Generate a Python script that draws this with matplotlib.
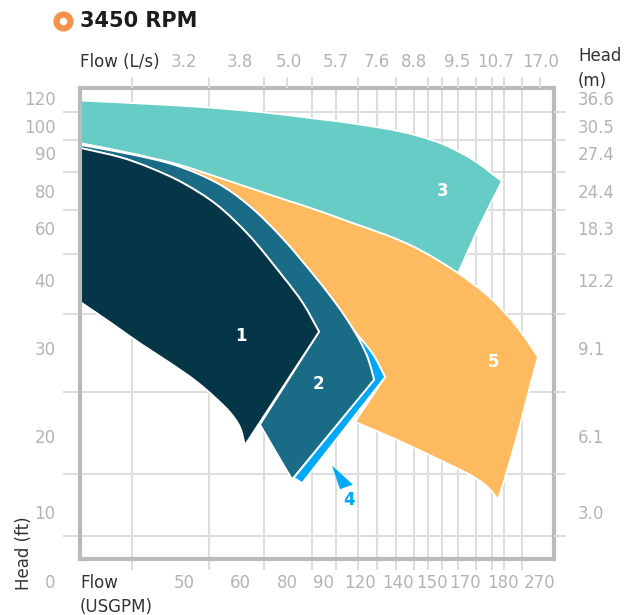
"""
Pump performance regions at 3450 RPM: head vs. flow on the catalogue's uneven grid.
"""

import numpy as np
import matplotlib
matplotlib.use('Agg')
import matplotlib.pyplot as plt
from matplotlib.path import Path
from matplotlib.patches import Polygon, PathPatch
from matplotlib.lines import Line2D

# catalogue axis: tick value -> distance (px) from the left / bottom edge of the plot box
flow_stops = [0, 50, 60, 80, 90, 120, 140, 150, 170, 180, 270, 300]
flow_stop_pos = [0, 104, 160, 207, 243, 280, 318, 352, 385, 423, 460, 474]
head_stops = [0, 10, 20, 30, 40, 60, 80, 90, 100, 120, 127]
head_stop_pos = [0, 47, 123, 211, 279, 331, 368, 406, 433, 461, 471]

# tick labels
flow_ticks = [50, 60, 80, 90, 120, 140, 150, 170, 180, 270]
head_ticks = [10, 20, 30, 40, 60, 80, 90, 100, 120]
head_m_labels = ['3.0', '6.1', '9.1', '12.2', '18.3', '24.4', '27.4', '30.5', '36.6']
flow_ls_labels = ['3.2', '3.8', '5.0', '5.7', '7.6', '8.8', '9.5', '10.7', '17.0']
flow_ls_at = [50, 60, 80.5, 100.5, 129, 144.7, 165, 178, 272]
flow_grid = [25, 50, 54.5, 60, 70, 80, 87, 100.5, 118.4, 129, 139, 144.7, 148.8,
             156.1, 165.8, 172.9, 177.1, 182.4, 226.2, 270]
head_grid = [5, 10, 15, 20, 25, 30, 35, 40, 50, 60, 70, 80, 85, 90, 95, 100, 110, 120]

# region 3: upper edge, right end, and lower edge (shared with region 5), flow in USGPM, head in ft
r3_top_gpm = [0, 28.8, 52.9, 68.5, 88.6, 111.9, 140.6, 154.8, 172.1, 179.7]
r3_top_ft = [118.2, 116.1, 113.6, 110.0, 105.0, 102.1, 98.0, 93.7, 88.2, 82.6]
r3_end_gpm = [173.9]
r3_end_ft = [61.6]
r3_low_gpm = [0, 24.0, 47.1, 55.9, 64.3, 78.3, 88.3, 111.9, 133.2, 143.5, 150.6, 165.8]
r3_low_ft = [93.7, 90.0, 87.0, 83.7, 80.8, 75.7, 69.7, 63.2, 57.5, 53.5, 48.8, 42.7]

# region 5
r5_top_gpm = [176.6, 214.1, 265.1]
r5_top_ft = [37.4, 33.1, 29.0]
r5_right_gpm = [242.0, 220.1, 194.6, 178.7]
r5_right_ft = [25.0, 21.0, 16.3, 11.6]
r5_low_gpm = [177.4, 175.0, 171.3, 160.9, 147.4, 135.8, 115.9]
r5_low_ft = [12.5, 13.7, 14.9, 16.2, 17.9, 19.9, 21.6]

# region 4 (thin band outside region 2)
r4_outer_gpm = [115.9, 126.8, 133.2]
r4_outer_ft = [32.4, 29.3, 26.7]
r4_end_gpm = [84.2, 81.9]
r4_end_ft = [13.8, 14.5]

# region 2
r2_outer_gpm = [0, 24.0, 45.7, 55.9, 64.3, 78.3, 88.3, 101.4, 111.9, 120.0, 124.2, 127.4]
r2_outer_ft = [93.0, 89.7, 86.8, 82.1, 71.6, 55.8, 40.4, 36.3, 33.5, 31.0, 28.8, 26.4]
r2_low_gpm = [81.4, 75.3, 68.5]
r2_low_ft = [14.3, 17.9, 21.3]

# region 1
r1_outer_gpm = [0, 19.2, 33.7, 49.5, 55.9, 64.3, 78.3, 84.4, 88.9]
r1_outer_ft = [91.9, 88.9, 86.1, 82.1, 72.4, 56.7, 41.3, 36.6, 32.4]
r1_low_gpm = [62.1, 60.0, 58.2, 55.5, 52.0, 43.3, 28.8, 14.4, 0]
r1_low_ft = [18.8, 21.0, 22.7, 24.4, 26.3, 28.3, 30.7, 33.8, 36.8]

# pointer for the "4" callout
pointer_gpm = [97.3, 103.8, 114.3]
pointer_ft = [16.1, 13.0, 13.6]

region_names = ['1', '2', '3', '4', '5']
region_label_gpm = [60.4, 88.6, 156.7, 111.1, 177.4]
region_label_ft = [31.8, 25.9, 80.0, 11.6, 28.4]
region_colors = {'1': '#053648', '2': '#1A6B86', '3': '#66CCC5', '4': '#00A8F5', '5': '#FEBA5F'}

GRAY = '#B4B4B4'
DARK = '#333333'
GRID = '#DDDDDD'


def _interp(src, dst):
    return lambda v: np.interp(v, src, dst)


flow_fwd, flow_inv = _interp(flow_stops, flow_stop_pos), _interp(flow_stop_pos, flow_stops)
head_fwd, head_inv = _interp(head_stops, head_stop_pos), _interp(head_stop_pos, head_stops)

fig = plt.figure(figsize=(6.29, 6.15), dpi=100)
ax = fig.add_axes([80 / 629, 56 / 615, 474 / 629, 471 / 615])
ax_r = ax.twinx()
ax_t = ax.twiny()

for a in (ax, ax_t):
    a.set_xscale('function', functions=(flow_fwd, flow_inv))
    a.set_xlim(0, 300)
for a in (ax, ax_r):
    a.set_yscale('function', functions=(head_fwd, head_inv))
    a.set_ylim(0, 127)

# bottom / left
ax.set_xticks(flow_ticks, [str(v) for v in flow_ticks])
ax.set_xticks(flow_grid, minor=True)
ax.set_yticks(head_ticks, [str(v) for v in head_ticks])
ax.set_yticks(head_grid, minor=True)
ax.tick_params(which='major', length=0, labelsize=12, labelcolor=GRAY)
ax.tick_params(axis='x', which='major', pad=11)
ax.tick_params(axis='y', which='major', pad=17.5)
ax.tick_params(which='minor', color=GRID, width=1.45)
ax.tick_params(axis='x', which='minor', length=8)
ax.tick_params(axis='y', which='minor', length=12)
ax.grid(which='minor', color=GRID, lw=1.45)
ax.set_axisbelow(True)
for s in ax.spines.values():
    s.set_color('#BBBBBB')
    s.set_linewidth(3)
    s.set_zorder(10)

# right: metres
ax_r.set_yticks(head_ticks, head_m_labels)
ax_r.set_yticks(head_grid, minor=True)
ax_r.tick_params(axis='y', which='major', length=0, pad=17, labelsize=12, labelcolor=GRAY)
ax_r.tick_params(axis='y', which='minor', length=8.5, width=1.45, color=GRID)

# top: litres per second
ax_t.set_xticks(flow_ls_at, flow_ls_labels)
ax_t.set_xticks(flow_grid, minor=True)
ax_t.tick_params(axis='x', which='major', length=0, pad=12, labelsize=12, labelcolor=GRAY)
ax_t.tick_params(axis='x', which='minor', length=8, width=1.45, color=GRID)

for a in (ax_r, ax_t):
    for s in a.spines.values():
        s.set_visible(False)


def _region(pieces, key, z):
    """Outline made of edges; smooth edges become Bezier curves through the read points,
    worked out in axis position so the uneven scale doesn't kink them."""
    verts, codes = [], []
    for xs, ys, smooth in pieces:
        p = np.column_stack([flow_fwd(np.asarray(xs, float)), head_fwd(np.asarray(ys, float))])
        verts.append(p[0])
        codes.append(Path.LINETO if codes else Path.MOVETO)
        if smooth and len(p) > 2:
            t = np.gradient(p, axis=0)
            for i in range(len(p) - 1):
                verts += [p[i] + t[i] / 3, p[i + 1] - t[i + 1] / 3, p[i + 1]]
                codes += [Path.CURVE4] * 3
        else:
            for q in p[1:]:
                verts.append(q)
                codes.append(Path.LINETO)
    verts.append(verts[0])
    codes.append(Path.CLOSEPOLY)
    v = np.array(verts)
    data = np.column_stack([flow_inv(v[:, 0]), head_inv(v[:, 1])])
    ax.add_patch(PathPatch(Path(data, codes), facecolor=region_colors[key], edgecolor='white',
                           lw=1.3, joinstyle='round', zorder=z))


# region 5 sits under 3 and 2; its upper edge is the lower edge of 3
_region([(r3_low_gpm[2:] + r5_top_gpm, r3_low_ft[2:] + r5_top_ft, True),
         (r5_top_gpm[-1:] + r5_right_gpm, r5_top_ft[-1:] + r5_right_ft, True),
         (r5_right_gpm[-1:] + r5_low_gpm, r5_right_ft[-1:] + r5_low_ft, True),
         (r4_outer_gpm[::-1], r4_outer_ft[::-1], True),
         (r2_outer_gpm[8:1:-1], r2_outer_ft[8:1:-1], True)], '5', 1.1)

_region([(r3_top_gpm, r3_top_ft, True),
         (r3_end_gpm, r3_end_ft, False),
         (r3_low_gpm[::-1], r3_low_ft[::-1], True)], '3', 1.2)

_region([(r4_outer_gpm, r4_outer_ft, True),
         (r4_end_gpm, r4_end_ft, False),
         (r2_outer_gpm[:8:-1], r2_outer_ft[:8:-1], True)], '4', 1.3)

_region([(r2_outer_gpm, r2_outer_ft, True),
         (r2_low_gpm, r2_low_ft, True),
         (r1_outer_gpm[::-1], r1_outer_ft[::-1], True)], '2', 1.4)

_region([(r1_outer_gpm, r1_outer_ft, True),
         (r1_low_gpm, r1_low_ft, True)], '1', 1.5)

ax.add_patch(Polygon(np.column_stack([pointer_gpm, pointer_ft]), closed=True,
                     facecolor=region_colors['4'], edgecolor='none', zorder=1.6))

for name, gx, hy in zip(region_names, region_label_gpm, region_label_ft):
    ax.text(gx, hy, name, ha='center', va='center', fontsize=12, fontweight='bold',
            color=region_colors['4'] if name == '4' else 'white', zorder=5)

# axis titles
fig.text(80 / 629, 1 - 62 / 615, 'Flow (L/s)', fontsize=12, color=DARK, ha='left', va='center')
fig.text(578 / 629, 1 - 47 / 615, 'Head\n(m)', fontsize=12, color=DARK, ha='left', va='top', linespacing=1.5)
fig.text(80 / 629, 1 - 574 / 615, 'Flow\n(USGPM)', fontsize=12, color=DARK, ha='left', va='top', linespacing=1.45)
fig.text(24 / 629, 1 - 553 / 615, 'Head (ft)', fontsize=12, color=DARK, ha='center', va='center', rotation=90)
fig.text(50 / 629, 1 - 583 / 615, '0', fontsize=12, color=GRAY, ha='center', va='center')

# title
fig.add_artist(Line2D([63 / 629], [1 - 21 / 615], transform=fig.transFigure, marker='o', ms=10, mew=4.5,
                      mfc='white', mec='#F7924A'))
fig.text(80 / 629, 1 - 21 / 615, '3450 RPM', fontsize=15, fontweight='bold', color='#1C1C1C',
         ha='left', va='center')

plt.savefig('out.png', dpi=100)
